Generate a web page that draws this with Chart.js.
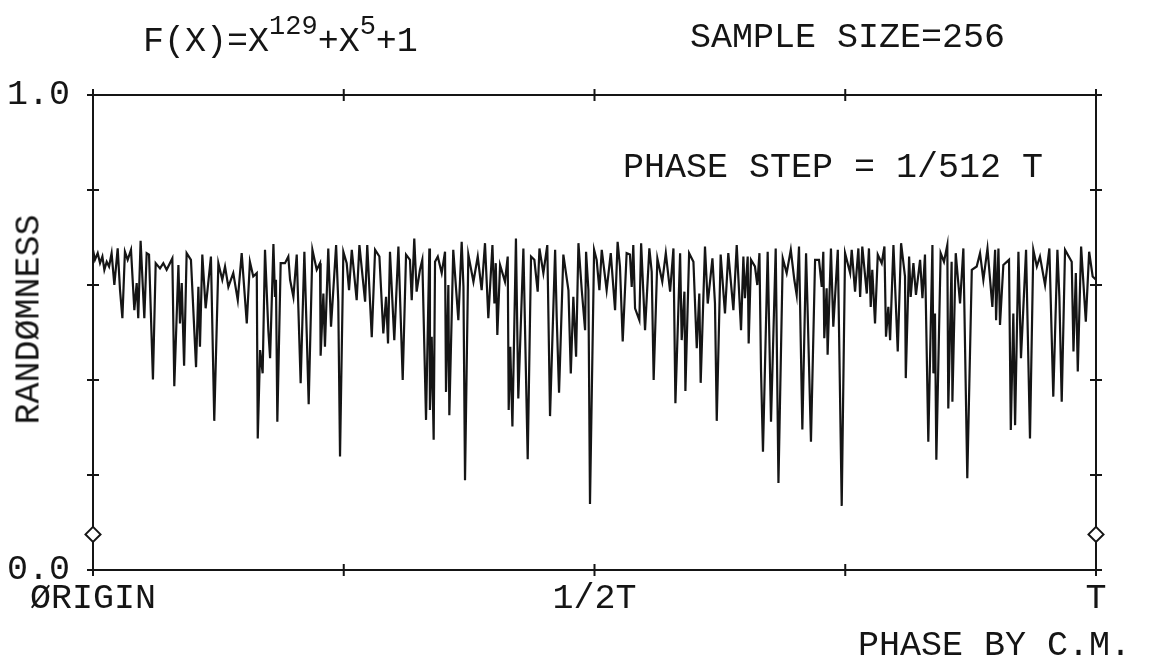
<!DOCTYPE html>
<html>
<head>
<meta charset="utf-8">
<title>Randomness vs phase</title>
<script src="https://cdn.jsdelivr.net/npm/chart.js@4/dist/chart.umd.min.js"></script>
<style>
html, body { margin: 0; padding: 0; background: #fff; }
#marco { position: relative; width: 1149px; height: 663px; font-family: "Liberation Mono", "DejaVu Sans Mono", monospace; color: #151515; }
#grafico { position: absolute; left: 0; top: 0; }
.texto { position: absolute; white-space: nowrap; font-size: 35px; line-height: 1; }
.texto sup { font-size: 27px; vertical-align: 17px; line-height: 0; }
#tituloY { width: 300px; height: 35px; text-align: center; transform: rotate(-90deg); left: -120px; top: 302px; }
</style>
</head>
<body>
<div id="marco">
  <canvas id="grafico" width="1149" height="663"></canvas>
  <div class="texto" style="left:143px; top:25px;">F(X)=X<sup>129</sup>+X<sup>5</sup>+1</div>
  <div class="texto" style="left:690px; top:21px;">SAMPLE SIZE=256</div>
  <div class="texto" style="left:623px; top:151px;">PHASE STEP = 1/512 T</div>
  <div class="texto" id="tituloY">RANDØMNESS</div>
  <div class="texto" style="left:858px; top:629px;">PHASE BY C.M.</div>
</div>
<script>
const fase = [
  0, 1.0, 2.4, 3.6, 4.8, 5.8, 7.0, 8.2, 9.5, 10.9, 12.6, 13.8, 15.0, 16.3, 17.7, 19.4, 21.1, 22.3, 23.1, 24.3,
  26.2, 27.4, 28.6, 30.6, 32.0, 34.2, 35.9, 37.6, 40.5, 41.5, 43.6, 44.4, 45.3, 46.5, 47.8, 50.0, 52.6, 53.8, 54.6, 55.8,
  57.5, 60.2, 61.9, 64.0, 66.0, 67.4, 69.1, 71.6, 73.9, 75.9, 78.5, 80.1, 81.8,
  83.6, 84.1, 85.3, 86.6, 87.8, 89.5, 90.4, 92.1, 92.9, 93.4, 94.1, 95.8, 98.0, 99.7, 100.6, 102.3, 104.0, 106.0, 107.9, 109.1,
  110.1, 112.0, 114.2, 115.9, 116.2, 117.6, 118.4, 120.1, 121.5, 124.1, 125.2, 126.1, 127.8, 129.5, 130.7, 132.1, 134.6, 136.0, 138.9, 140.0,
  142.3, 144.0, 146.2, 148.2, 149.6, 150.6, 151.6, 153.8, 155.9, 158.1, 159.8, 161.8, 162.7, 164.0, 165.2, 166.9,
  168.1, 170.0, 171.7, 172.0, 172.9, 173.9, 174.6, 176.0, 178.0, 179.7, 180.2, 181.4, 181.9, 183.9, 186.5, 188.2, 189.1, 189.9, 191.6, 194.2,
  196.4, 198.4, 200.1, 201.8, 203.9, 204.9, 205.6, 206.4, 207.8, 210.3, 211.7, 212.2, 213.0, 214.1, 215.9, 217.1, 219.7, 221.9, 223.6, 225.3,
  227.0, 227.9, 229.9, 231.9, 233.3, 235.9, 236.7, 237.9, 240.1, 242.7, 243.9, 245.2, 246.6, 247.8, 249.5, 251.2,
  251.7, 252.9, 253.7, 255.8, 257.1, 258.5, 259.7, 262.2, 264.3, 266.5, 267.8, 269.0, 270.4, 272.4, 274.1, 275.0, 275.8, 276.7, 278.9, 279.8,
  281.8, 284.0, 285.2, 286.2, 288.1, 290.6, 292.4, 294.6, 296.3, 297.3, 299.7, 300.5, 301.9, 302.4, 304.3, 306.5, 308.2, 309.5, 310.2, 312.4,
  313.8, 316.2, 317.5, 318.4, 320.4, 322.6, 324.3, 326.9, 328.6, 330.8, 332.0, 332.8, 334.2, 334.7,
  335.9, 337.9, 339.1, 340.2, 341.0, 342.0, 344.4, 346.1, 348.5, 349.9, 352.1, 354.1, 356.2, 358.0, 359.2, 360.4, 362.1, 364.0, 364.7, 366.5,
  368.6, 370.6, 372.0, 372.8, 373.3, 374.5, 375.0, 376.7, 377.9, 380.2, 382.2, 383.9, 386.5, 387.3, 389.0, 390.7, 391.6, 392.7, 395.0, 396.1,
  397.0, 397.8, 399.2, 400.6, 402.6, 404.0, 404.8, 406.0, 406.9, 408.6, 410.8, 412.5, 414.5, 414.9, 416.6, 417.4, 418.8,
  420.1, 422.2, 423.4, 424.7, 426.4, 428.5, 429.0, 429.8, 430.5, 432.7, 434.4, 436.1, 436.6, 438.3, 438.7, 440.4, 442.6, 444.3, 446.3, 448.6,
  451.1, 452.8, 454.5, 456.6, 459.1, 460.5, 461.0, 462.2, 463.0, 464.7, 467.6, 468.5, 469.8, 470.7, 472.4, 473.7, 476.3, 478.3, 480.0, 481.8,
  483.4, 486.0, 488.2, 490.2, 492.3, 493.3, 494.5, 496.2, 499.6, 500.5, 501.7, 502.7, 504.4, 506.8, 508.5, 510.3, 512
];

// Aleatoriedad medida en cada fase
const aleatoriedad = [
  0.674, 0.653, 0.667, 0.646, 0.660, 0.632, 0.649, 0.639, 0.667, 0.600, 0.677, 0.589, 0.530, 0.670, 0.653, 0.674, 0.547, 0.604, 0.530, 0.693,
  0.530, 0.667, 0.664, 0.401, 0.646, 0.635, 0.646, 0.632, 0.656, 0.387, 0.642, 0.519, 0.604, 0.430, 0.667, 0.653, 0.427, 0.596, 0.470, 0.664,
  0.551, 0.660, 0.314, 0.646, 0.611, 0.639, 0.596, 0.625, 0.568, 0.667, 0.519, 0.649, 0.618,
  0.625, 0.277, 0.463, 0.414, 0.674, 0.505, 0.446, 0.686, 0.575, 0.611, 0.312, 0.646, 0.646, 0.660, 0.611, 0.575, 0.664, 0.393, 0.670, 0.498,
  0.349, 0.674, 0.632, 0.646, 0.451, 0.582, 0.470, 0.677, 0.512, 0.684, 0.565, 0.239, 0.670, 0.646, 0.589, 0.674, 0.568, 0.684, 0.565, 0.684,
  0.490, 0.674, 0.660, 0.498, 0.575, 0.477, 0.670, 0.484, 0.681, 0.400, 0.664, 0.653, 0.568, 0.698, 0.586, 0.632,
  0.653, 0.316, 0.677, 0.337, 0.491, 0.274, 0.649, 0.660, 0.625, 0.670, 0.375, 0.600, 0.326, 0.674, 0.526, 0.691, 0.596, 0.189, 0.664, 0.607,
  0.660, 0.589, 0.688, 0.530, 0.684, 0.561, 0.646, 0.495, 0.642, 0.607, 0.660, 0.337, 0.470, 0.302, 0.698, 0.361, 0.677, 0.233, 0.660, 0.653,
  0.586, 0.677, 0.625, 0.684, 0.324, 0.674, 0.533, 0.373, 0.664, 0.589, 0.414, 0.575, 0.449, 0.688, 0.589, 0.505,
  0.670, 0.589, 0.139, 0.674, 0.653, 0.589, 0.674, 0.589, 0.667, 0.547, 0.691, 0.639, 0.481, 0.667, 0.664, 0.596, 0.684, 0.551, 0.526, 0.688,
  0.505, 0.677, 0.628, 0.400, 0.656, 0.607, 0.667, 0.586, 0.677, 0.351, 0.667, 0.484, 0.586, 0.377, 0.667, 0.649, 0.467, 0.582, 0.394, 0.681,
  0.561, 0.656, 0.561, 0.314, 0.664, 0.540, 0.667, 0.547, 0.684, 0.505, 0.660, 0.572, 0.660, 0.477,
  0.653, 0.639, 0.600, 0.667, 0.421, 0.249, 0.670, 0.312, 0.677, 0.183, 0.656, 0.625, 0.674, 0.611, 0.579, 0.681, 0.296, 0.667, 0.561, 0.270,
  0.653, 0.653, 0.596, 0.670, 0.488, 0.593, 0.453, 0.677, 0.512, 0.674, 0.135, 0.667, 0.625, 0.674, 0.586, 0.677, 0.575, 0.681, 0.582, 0.677,
  0.554, 0.632, 0.519, 0.664, 0.646, 0.681, 0.491, 0.554, 0.484, 0.684, 0.460, 0.688, 0.618, 0.404, 0.660, 0.575, 0.646,
  0.579, 0.653, 0.572, 0.664, 0.270, 0.684, 0.414, 0.540, 0.232, 0.667, 0.649, 0.684, 0.340, 0.649, 0.354, 0.667, 0.561, 0.677, 0.193, 0.632,
  0.639, 0.667, 0.611, 0.677, 0.554, 0.674, 0.526, 0.677, 0.516, 0.642, 0.653, 0.295, 0.540, 0.305, 0.670, 0.446, 0.674, 0.277, 0.674, 0.639,
  0.660, 0.600, 0.677, 0.365, 0.674, 0.575, 0.354, 0.674, 0.649, 0.460, 0.625, 0.418, 0.681, 0.523, 0.670, 0.618, 0.611
];

// Marcas (rombos) sobre los ejes verticales
const faseRombos = [0, 512];
const valorRombos = [0.075, 0.075];

// Etiquetas de los ejes
const ticksX = [0, 256, 512];
const etiquetasX = ["ØRIGIN", "1/2T", "T"];
const ticksY = [0, 1];
const etiquetasY = ["0.0", "1.0"];
// Marcas pequeñas del marco
const marcasX = [0, 128, 256, 384, 512];
const marcasY = [0, 0.2, 0.4, 0.6, 0.8, 1.0];

const fuente = { family: "'Liberation Mono', 'DejaVu Sans Mono', monospace", size: 35 };
const tinta = "#151515";

// Plugin que dibuja el marco y las pequeñas cruces de las marcas
const marco = {
  id: "marco",
  beforeDatasetsDraw(chart) {
    const { ctx, chartArea: a, scales } = chart;
    ctx.save();
    ctx.strokeStyle = tinta;
    ctx.lineWidth = 2;
    ctx.strokeRect(a.left, a.top, a.right - a.left, a.bottom - a.top);
    ctx.beginPath();
    marcasY.forEach(v => {
      const y = scales.y.getPixelForValue(v);
      ctx.moveTo(a.left - 6, y); ctx.lineTo(a.left + 6, y);
      ctx.moveTo(a.right - 6, y); ctx.lineTo(a.right + 6, y);
    });
    marcasX.forEach(v => {
      const x = scales.x.getPixelForValue(v);
      ctx.moveTo(x, a.top - 6); ctx.lineTo(x, a.top + 6);
      ctx.moveTo(x, a.bottom - 6); ctx.lineTo(x, a.bottom + 6);
    });
    ctx.stroke();
    ctx.restore();
  }
};

const ctx = document.getElementById("grafico").getContext("2d");
const grafico = new Chart(ctx, {
  type: "line",
  data: {
    datasets: [
      {
        data: fase.map((x, i) => ({ x: x, y: aleatoriedad[i] })),
        borderColor: tinta,
        borderWidth: 2.2,
        pointRadius: 0,
        tension: 0,
        fill: false
      },
      {
        data: faseRombos.map((x, i) => ({ x: x, y: valorRombos[i] })),
        showLine: false,
        pointStyle: "rectRot",
        pointRadius: 7.5,
        pointBorderWidth: 2,
        pointBorderColor: tinta,
        pointBackgroundColor: "#fff",
        clip: false
      }
    ]
  },
  options: {
    responsive: false,
    animation: false,
    layout: { padding: { top: 95, right: 53, left: 0, bottom: 0 } },
    plugins: { legend: { display: false }, tooltip: { enabled: false } },
    scales: {
      x: {
        type: "linear",
        min: 0,
        max: 512,
        afterFit: s => { s.height = 93; },
        afterBuildTicks: s => { s.ticks = ticksX.map(v => ({ value: v })); },
        ticks: {
          callback: v => etiquetasX[ticksX.indexOf(v)],
          autoSkip: false,
          maxRotation: 0,
          padding: 8,
          font: fuente,
          color: tinta
        },
        grid: { display: false, drawTicks: false },
        border: { display: false }
      },
      y: {
        min: 0,
        max: 1,
        afterFit: s => { s.width = 93; },
        afterBuildTicks: s => { s.ticks = ticksY.map(v => ({ value: v })); },
        ticks: {
          callback: v => etiquetasY[ticksY.indexOf(v)],
          padding: 23,
          font: fuente,
          color: tinta
        },
        grid: { display: false, drawTicks: false },
        border: { display: false }
      }
    }
  },
  plugins: [marco]
});
</script>
</body>
</html>
